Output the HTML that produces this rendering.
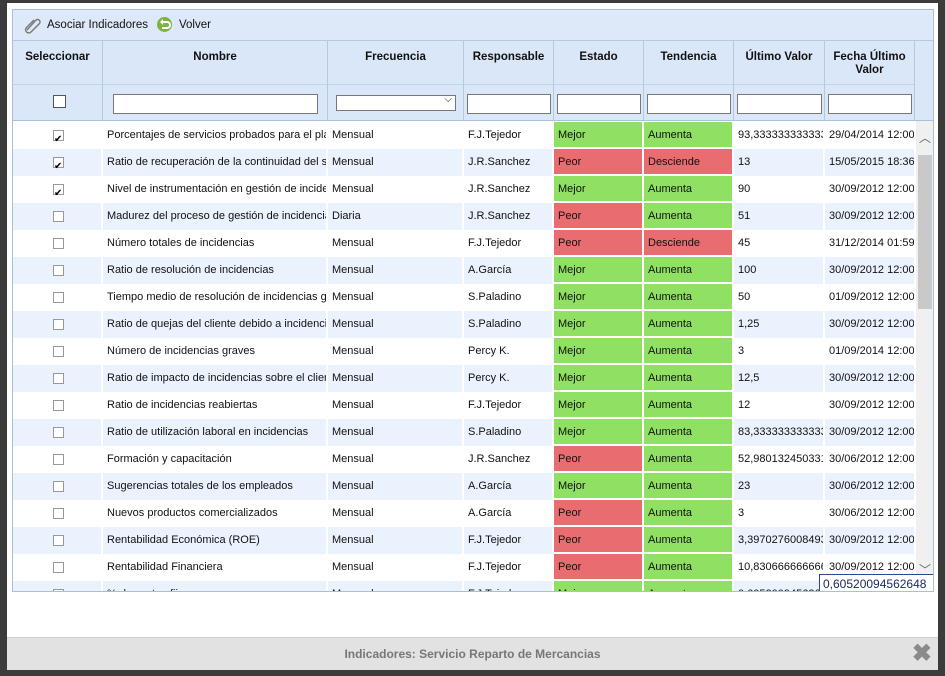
<!DOCTYPE html>
<html><head><meta charset="utf-8">
<style>
*{box-sizing:border-box;margin:0;padding:0}
body{width:945px;height:676px;background:#3b3b3b;position:relative;overflow:hidden;font-family:"Liberation Sans",Arial,sans-serif;font-size:11px;color:#111}
#panel{position:absolute;left:7px;top:3px;width:931px;height:667px;background:#fff}
#grid{position:absolute;left:12px;top:9px;width:922px;height:583px;border:1px solid #a9c0da;background:#fff;overflow:hidden}
#tb{position:absolute;left:0;top:0;width:920px;height:31px;background:#dde9f8;border-bottom:1px solid #b4c8e0}
#tb span{position:absolute;top:9px;font-size:11.5px}
#hdr{position:absolute;left:0;top:31px;width:920px;height:80px;background:#dae7f8;border-bottom:1px solid #a9c0da}
.hc{position:absolute;top:0;height:80px;border-right:1px solid #b4c8e0}
.hc b{position:absolute;left:0;right:0;top:10px;text-align:center;font-size:11.5px;line-height:13px}
.hc .ln{position:absolute;left:0;right:0;top:43px;border-top:1px solid #c2d3e8}
.inp{position:absolute;top:53px;height:20px;border:1px solid #777;background:#fff}
.row{position:absolute;left:0;width:903px;height:27px}
.c{position:absolute;top:0;height:27px;line-height:26px;padding-left:4px;white-space:nowrap;overflow:hidden;border-right:2px solid #fff}
.g{background:#8fe063;border-bottom:2px solid #fff}.r{background:#e86c70;border-bottom:2px solid #fff}
.cb{position:absolute;left:40px;top:8px;width:11px;height:11px;border:1px solid #999;background:#fff}
.cb.k::after{content:"✔";position:absolute;left:0px;top:-4px;font-size:10px;color:#000}
#sb{position:absolute;left:903px;top:111px;width:18px;height:470px;background:#f0f0f0}
#foot{position:absolute;left:0;top:634px;width:931px;height:33px;background:#e2e2e2;border-top:1px solid #d0d0d0;text-align:center;line-height:32px;color:#777;font-size:12px;font-weight:bold}
</style></head><body>
<div id="panel">
<div id="foot">Indicadores: Servicio Reparto de Mercancias<span style="position:absolute;right:6px;top:0;font-size:24px;color:#8a8a8a">✖</span></div>
</div>
<div id="grid">
<div id="tb">
<svg style="position:absolute;left:10px;top:6px" width="18" height="18" viewBox="0 0 18 18"><path d="M4 14 L13 4 a2.5 2.5 0 0 1 3.5 3.5 L8 16 a3 3 0 0 1 -4.5 -4.5 L11 4" fill="none" stroke="#777" stroke-width="1.4"/></svg>
<span style="left:34px">Asociar Indicadores</span>
<svg style="position:absolute;left:143px;top:6px" width="17" height="17" viewBox="0 0 17 17"><circle cx="8.5" cy="8.5" r="7.5" fill="#7cb342"/><path d="M5 6 h6 a3 3 0 0 1 0 6 h-5" fill="none" stroke="#fff" stroke-width="2"/><path d="M4 6 l3-3 v6z" fill="#fff"/></svg>
<span style="left:166px">Volver</span>
</div>
<div id="hdr">
<div class="hc" style="left:0;width:90px"><b>Seleccionar</b><div class="ln"></div><div style="position:absolute;left:40px;top:54px;width:13px;height:13px;border:1px solid #555;background:#fff"></div></div>
<div class="hc" style="left:90px;width:225px"><b>Nombre</b><div class="ln"></div><div class="inp" style="left:10px;width:205px"></div></div>
<div class="hc" style="left:315px;width:136px"><b>Frecuencia</b><div class="ln"></div><div class="inp" style="left:8px;width:120px;height:16px;top:54px"><span style="position:absolute;right:3px;top:-2px;font-size:10px">⌵</span></div></div>
<div class="hc" style="left:451px;width:90px"><b>Responsable</b><div class="ln"></div><div class="inp" style="left:3px;width:84px"></div></div>
<div class="hc" style="left:541px;width:90px"><b>Estado</b><div class="ln"></div><div class="inp" style="left:3px;width:84px"></div></div>
<div class="hc" style="left:631px;width:90px"><b>Tendencia</b><div class="ln"></div><div class="inp" style="left:3px;width:84px"></div></div>
<div class="hc" style="left:721px;width:91px"><b>Último Valor</b><div class="ln"></div><div class="inp" style="left:3px;width:85px"></div></div>
<div class="hc" style="left:812px;width:90px"><b>Fecha Último<br>Valor</b><div class="ln"></div><div class="inp" style="left:3px;width:84px"></div></div>
</div>
<div id="rows"></div>
<div id="sb"><div style="position:absolute;left:2px;top:34px;width:14px;height:154px;background:#c9c9c9"></div><div style="position:absolute;left:3px;top:8px;font-size:12px;color:#666">︿</div><div style="position:absolute;left:3px;top:440px;font-size:12px;color:#666">﹀</div></div>
<div style="position:absolute;left:806px;top:564px;width:116px;height:20px;border:1px solid #2a4a8a;background:#fff;color:#1a2a6a;font-size:12px;line-height:18px;padding-left:3px">0,60520094562648</div>
</div>
<script>
var d=[
[1,"Porcentajes de servicios probados para el pla","Mensual","F.J.Tejedor","g","g","Aumenta","93,3333333333333","29/04/2014 12:00"],
[1,"Ratio de recuperación de la continuidad del s","Mensual","J.R.Sanchez","r","r","Desciende","13","15/05/2015 18:36"],
[1,"Nivel de instrumentación en gestión de incide","Mensual","J.R.Sanchez","g","g","Aumenta","90","30/09/2012 12:00"],
[0,"Madurez del proceso de gestión de incidencia","Diaria","J.R.Sanchez","r","g","Aumenta","51","30/09/2012 12:00"],
[0,"Número totales de incidencias","Mensual","F.J.Tejedor","r","r","Desciende","45","31/12/2014 01:59"],
[0,"Ratio de resolución de incidencias","Mensual","A.García","g","g","Aumenta","100","30/09/2012 12:00"],
[0,"Tiempo medio de resolución de incidencias g","Mensual","S.Paladino","g","g","Aumenta","50","01/09/2012 12:00"],
[0,"Ratio de quejas del cliente debido a incidenci","Mensual","S.Paladino","g","g","Aumenta","1,25","30/09/2012 12:00"],
[0,"Número de incidencias graves","Mensual","Percy K.","g","g","Aumenta","3","01/09/2014 12:00"],
[0,"Ratio de impacto de incidencias sobre el clier","Mensual","Percy K.","g","g","Aumenta","12,5","30/09/2012 12:00"],
[0,"Ratio de incidencias reabiertas","Mensual","F.J.Tejedor","g","g","Aumenta","12","30/09/2012 12:00"],
[0,"Ratio de utilización laboral en incidencias","Mensual","S.Paladino","g","g","Aumenta","83,3333333333333","30/09/2012 12:00"],
[0,"Formación y capacitación","Mensual","J.R.Sanchez","r","g","Aumenta","52,9801324503311","30/06/2012 12:00"],
[0,"Sugerencias totales de los empleados","Mensual","A.García","g","g","Aumenta","23","30/06/2012 12:00"],
[0,"Nuevos productos comercializados","Mensual","A.García","r","g","Aumenta","3","30/06/2012 12:00"],
[0,"Rentabilidad Económica (ROE)","Mensual","F.J.Tejedor","r","g","Aumenta","3,39702760084936","30/09/2012 12:00"],
[0,"Rentabilidad Financiera","Mensual","F.J.Tejedor","r","g","Aumenta","10,8306666666667","30/09/2012 12:00"],
[0,"% de costes fijos","Mensual","F.J.Tejedor","g","g","Aumenta","0,60520094562648","30/09/2012 12:00"]];
var cols=[[0,90],[90,225],[315,136],[451,90],[541,90],[631,90],[721,91],[812,91]];
var h="";
d.forEach(function(r,i){
 var bg=i%2?"#eaf2fd":"#fff";
 var e=r[4]=="g"?"Mejor":"Peor";
 var vals=["",r[1],r[2],r[3],e,r[6],r[7],r[8]];
 h+='<div class="row" style="top:'+(112+27*i)+'px">';
 vals.forEach(function(v,j){
  var cls="c"; var st="left:"+cols[j][0]+"px;width:"+cols[j][1]+"px;background:"+bg;
  if(j==4){cls+=" "+r[4];st="left:"+cols[j][0]+"px;width:"+cols[j][1]+"px";}
  if(j==5){cls+=" "+r[5];st="left:"+cols[j][0]+"px;width:"+cols[j][1]+"px";}
  if(j==0){h+='<div class="c" style="'+st+'"><div class="cb'+(r[0]?" k":"")+'"></div></div>';}
  else h+='<div class="'+cls+'" style="'+st+'">'+v+'</div>';
 });
 h+='</div>';
});
document.getElementById("rows").innerHTML=h;
</script>
</body></html>
